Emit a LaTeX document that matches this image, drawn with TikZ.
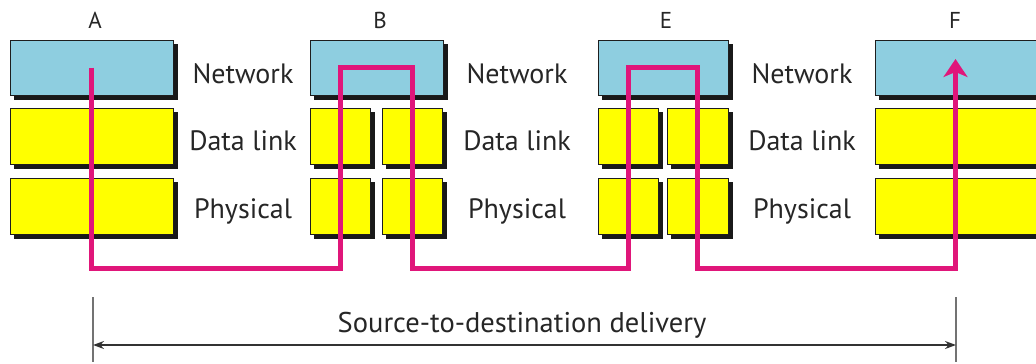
\documentclass[tikz,border=0pt]{standalone}
\usepackage{fontspec}
\setmainfont{PT Sans}
\usetikzlibrary{arrows.meta}
\definecolor{netblue}{RGB}{142,206,224}
\definecolor{layeryellow}{RGB}{255,255,0}
\definecolor{routepink}{RGB}{224,22,122}
\definecolor{edgegray}{RGB}{30,30,30}
\definecolor{shadowdark}{RGB}{25,25,25}
\tikzset{
  layerbox/.style={draw=edgegray, line width=1pt, inner sep=0pt,
    preaction={fill=shadowdark, draw=shadowdark, line width=1pt,
      transform canvas={xshift=4pt, yshift=-4pt}}},
  netbox/.style={layerbox, fill=netblue, minimum height=55pt},
  linkbox/.style={layerbox, fill=layeryellow, minimum height=56pt},
  layername/.style={font=\fontsize{28}{32}\selectfont, text=black!85, anchor=base, inner sep=0pt},
  hostname/.style={font=\fontsize{23}{27}\selectfont, text=black!85, anchor=base, inner sep=0pt},
  route/.style={draw=routepink, line width=5pt, line join=miter},
  tick/.style={draw=black!55, line width=1.8pt},
  span/.style={draw=black!80, line width=1.5pt, {Stealth[length=11pt,width=8pt]}-{Stealth[length=11pt,width=8pt]}}
}
\begin{document}
\begin{tikzpicture}[x=1pt,y=-1pt]
\useasboundingbox (0,0) rectangle (1036,364);

% host A
\node[netbox, minimum width=163pt] (anet) at (91.5,67.5) {};
\node[linkbox, minimum width=163pt] (adl) at (91.5,136) {};
\node[linkbox, minimum width=163pt] (aph) at (91.5,206) {};

% router B
\node[netbox, minimum width=133pt] (bnet) at (376.5,67.5) {};
\node[linkbox, minimum width=60pt] (bdl1) at (340,136) {};
\node[linkbox, minimum width=60pt] (bdl2) at (412,136) {};
\node[linkbox, minimum width=60pt] (bph1) at (340,206) {};
\node[linkbox, minimum width=60pt] (bph2) at (412,206) {};

% router E
\node[netbox, minimum width=130pt] (enet) at (663,67.5) {};
\node[linkbox, minimum width=60pt] (edl1) at (628,136) {};
\node[linkbox, minimum width=61pt] (edl2) at (697.5,136) {};
\node[linkbox, minimum width=60pt] (eph1) at (628,206) {};
\node[linkbox, minimum width=61pt] (eph2) at (697.5,206) {};

% host F
\node[netbox, minimum width=161pt] (fnet) at (955.5,67.5) {};
\node[linkbox, minimum width=161pt] (fdl) at (955.5,136) {};
\node[linkbox, minimum width=161pt] (fph) at (955.5,206) {};

% station letters
\node[hostname] (la) at (95,28) {A};
\node[hostname] (lb) at (380,28) {B};
\node[hostname] (le) at (666,28) {E};
\node[hostname] (lf) at (955,28) {F};

% layer names
\foreach \cx/\k in {243/1,517/2,802/3}{
  \node[layername] (net\k) at (\cx,83) {Network};
  \node[layername] (dl\k) at (\cx,150) {Data link};
  \node[layername] (ph\k) at (\cx,218) {Physical};
}

% packet route
\coordinate (bus) at (0,268);
\coordinate (ftip) at (955.5,59);
\draw[route, -{Stealth[length=18pt,width=24pt,inset=5pt]}]
  (anet.center) -- (anet.center |- bus)
  -- (bdl1.center |- bus) -- (bdl1.center |- bnet.center)
  -- (bdl2.center |- bnet.center) -- (bdl2.center |- bus)
  -- (edl1.center |- bus) -- (edl1.center |- enet.center)
  -- (edl2.center |- enet.center) -- (edl2.center |- bus)
  -- (ftip |- bus) -- (ftip);

% delivery span
\coordinate (sl) at (93,297);
\coordinate (sr) at (956,297);
\coordinate (sla) at (93,345);
\coordinate (sra) at (956,345);
\draw[tick] (sl) -- (93,362);
\draw[tick] (sr) -- (956,362);
\draw[span] (sla) -- (sra);
\node[layername, font=\fontsize{28.5}{32}\selectfont] (span) at (522,332) {Source-to-destination delivery};
\end{tikzpicture}
\end{document}
